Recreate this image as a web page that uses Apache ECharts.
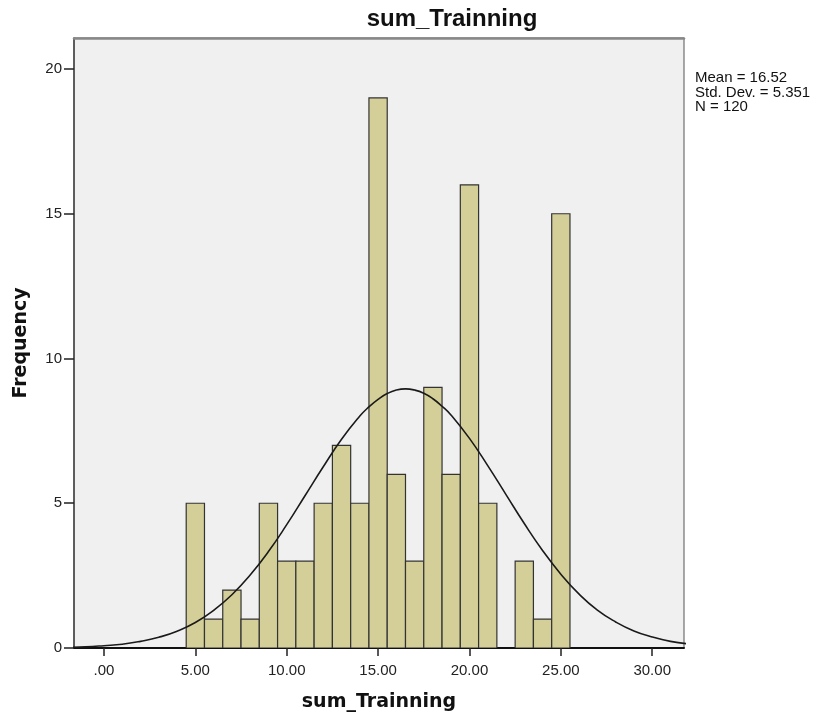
<!DOCTYPE html>
<html><head><meta charset="utf-8">
<script src="https://cdn.jsdelivr.net/npm/echarts@6/dist/echarts.min.js"></script>
<style>html,body{margin:0;padding:0;background:#fff}#c{width:816px;height:717px}</style>
</head><body><div id="c"></div>
<script>
// Histogram bins (centre value) and frequencies
const binCentres = [5,6,7,8,9,10,11,12,13,14,15,16,17,18,19,20,21,22,23,24,25];
const frequencies = [5,1,2,1,5,3,3,5,7,5,19,6,3,9,6,16,5,0,3,1,15];
// Normal curve
const curveX = [-2,-1,0,1,2,3,4,5,6,7,8,9,10,11,12,13,14,14.5,15,15.5,16,16.5,17,17.5,18,18.5,19,20,21,22,23,24,25,26,27,28,29,30,31,32];
const curveY = [0.02,0.04,0.08,0.13,0.23,0.37,0.58,0.88,1.30,1.84,2.52,3.33,4.26,5.26,6.26,7.21,8.01,8.33,8.59,8.79,8.91,8.95,8.91,8.80,8.61,8.35,8.04,7.24,6.30,5.30,4.30,3.37,2.55,1.86,1.31,0.90,0.59,0.38,0.23,0.14];
const xTickValues = [0,5,10,15,20,25,30];
const yTickValues = [0,5,10,15,20];
const titleText = 'sum_Trainning';
const xAxisTitle = 'sum_Trainning';
const yAxisTitle = 'Frequency';
const statsText = ['Mean = 16.52','Std. Dev. = 5.351','N = 120'];

const barData = binCentres.map((c,i)=>[c-0.5,c+0.5,frequencies[i]]).filter(d=>d[2]>0);
const lineData = curveX.map((x,i)=>[x,curveY[i]]);

const XMIN=-1.64, XMAX=31.74;
const chart = echarts.init(document.getElementById('c'));
chart.setOption({
  animation:false,
  backgroundColor:'#fff',
  grid:{left:74,top:38,width:610,bottom:68,show:true,backgroundColor:'#f0f0f0',borderColor:'#555',borderWidth:1},
  xAxis:[{type:'value',min:XMIN,max:XMAX,
    name:xAxisTitle,nameLocation:'middle',nameGap:45,
    nameTextStyle:{fontFamily:'DejaVu Sans',fontSize:19,fontWeight:'bold',color:'#111'},
    axisLine:{show:true,onZero:false,lineStyle:{color:'#111',width:2}},
    axisTick:{show:true,length:8,lineStyle:{color:'#222',width:1.5},customValues:xTickValues},
    axisLabel:{fontFamily:'Liberation Sans',fontSize:15,color:'#222',margin:15,customValues:xTickValues,
      formatter:v=>v===0?'.00':v.toFixed(2)},
    splitLine:{show:false}},
   {type:'value',position:'top',min:XMIN,max:XMAX,
    axisLine:{show:true,onZero:false,lineStyle:{color:'#888',width:2.5}},
    axisTick:{show:false},axisLabel:{show:false},splitLine:{show:false}}],
  yAxis:{type:'value',min:0,max:21.07,
    name:yAxisTitle,nameLocation:'middle',nameGap:43,
    nameTextStyle:{fontFamily:'DejaVu Sans',fontSize:19,fontWeight:'bold',color:'#111'},
    axisLine:{show:true,onZero:false,lineStyle:{color:'#444',width:1.5}},
    axisTick:{show:true,length:10,lineStyle:{color:'#222',width:1.5},customValues:yTickValues},
    axisLabel:{fontFamily:'Liberation Sans',fontSize:15,color:'#222',margin:12,customValues:yTickValues},
    splitLine:{show:false}},
  graphic:[
    {type:'text',x:452,y:7,style:{text:titleText,textAlign:'center',textVerticalAlign:'top',fontFamily:'Liberation Sans',fontSize:24,fontWeight:'bold',fill:'#111'}},
    {type:'text',x:695,y:71,style:{text:statsText.join('\n'),textVerticalAlign:'top',fontFamily:'Liberation Sans',fontSize:15,lineHeight:14.5,fill:'#111'}}
  ],
  series:[
    {type:'custom',data:barData,encode:{x:[0,1],y:2},clip:true,
      renderItem:(params,api)=>{
        const p0=api.coord([api.value(0),api.value(2)]);
        const p1=api.coord([api.value(1),0]);
        return {type:'rect',shape:{x:p0[0],y:p0[1],width:p1[0]-p0[0],height:p1[1]-p0[1]},
          style:{fill:'#d4cf98',stroke:'#333',lineWidth:1.2}};
      }},
    {type:'line',data:lineData,smooth:true,showSymbol:false,symbol:'none',clip:true,
      lineStyle:{color:'#1a1a1a',width:1.6},z:5}
  ]
});
</script></body></html>
